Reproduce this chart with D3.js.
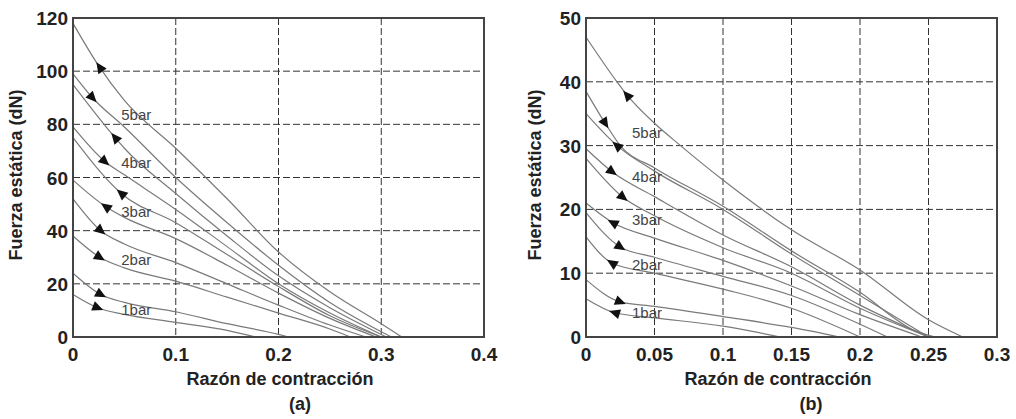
<!DOCTYPE html>
<html>
<head>
<meta charset="utf-8">
<script src="https://cdn.jsdelivr.net/npm/d3@7"></script>
<style>
  body { margin: 0; background: #fff; }
  text { font-family: "Liberation Sans", Arial, sans-serif; }
</style>
</head>
<body>
<div id="chart"></div>
<script>
// ---- data ----
const xTicksA = [0, 0.1, 0.2, 0.3, 0.4];
const yTicksA = [0, 20, 40, 60, 80, 100, 120];
const xTicksB = [0, 0.05, 0.1, 0.15, 0.2, 0.25, 0.3];
const yTicksB = [0, 10, 20, 30, 40, 50];

// panel (a): ten branches, [razón de contracción, fuerza dN]
const curvesA = [
  [[0,118],[0.025,102],[0.05,89],[0.1,71],[0.15,52],[0.2,32],[0.25,17],[0.3,5],[0.32,0]],
  [[0,99],[0.019,90],[0.05,79],[0.1,60],[0.15,43],[0.2,27],[0.25,13],[0.3,2],[0.31,0]],
  [[0,95],[0.041,75],[0.05,71],[0.1,54],[0.15,38],[0.2,23],[0.25,11],[0.305,0]],
  [[0,79],[0.031,66],[0.05,61],[0.1,48],[0.15,34],[0.2,20],[0.25,9],[0.3,0]],
  [[0,75],[0.047,54],[0.1,43],[0.15,31],[0.2,19],[0.25,8],[0.3,0]],
  [[0,59],[0.032,49],[0.05,45],[0.1,37],[0.15,27],[0.2,16.5],[0.25,7],[0.295,0]],
  [[0,52],[0.027,40],[0.05,35],[0.1,28],[0.15,20],[0.2,12],[0.25,4.5],[0.285,0]],
  [[0,38],[0.026,30],[0.05,26],[0.1,21],[0.15,15],[0.2,9],[0.25,3],[0.27,0]],
  [[0,24],[0.027,16],[0.05,13],[0.1,9.5],[0.15,5],[0.2,1],[0.21,0]],
  [[0,16],[0.024,11],[0.05,8.5],[0.1,5.5],[0.15,2.5],[0.178,0]]
];
// panel (b)
const curvesB = [
  [[0,47],[0.0226,40],[0.03,37.9],[0.05,33.5],[0.069,30],[0.1,24.6],[0.15,16.8],[0.2,10.5],[0.25,2.7],[0.275,0]],
  [[0,38.5],[0.014,33.5],[0.025,30],[0.05,26.5],[0.1,20.5],[0.15,13.5],[0.2,7],[0.24,1],[0.255,0]],
  [[0,35],[0.0226,30],[0.05,26],[0.1,20],[0.15,13],[0.2,6.5],[0.25,0]],
  [[0,29.5],[0.019,25.9],[0.05,22],[0.1,16],[0.15,11],[0.2,5],[0.25,0]],
  [[0,28],[0.027,21.9],[0.05,19],[0.1,14],[0.15,10],[0.2,4.5],[0.25,0]],
  [[0,21],[0.0197,17.9],[0.05,15.5],[0.1,12],[0.15,8],[0.2,3.5],[0.245,0]],
  [[0,19.5],[0.025,14.1],[0.05,12.5],[0.1,9.5],[0.15,6.5],[0.2,2],[0.22,0]],
  [[0,15.7],[0.019,11.6],[0.05,10],[0.1,7.5],[0.15,4.5],[0.2,0]],
  [[0,9],[0.025,5.5],[0.05,4.8],[0.1,3.2],[0.15,1.5],[0.185,0]],
  [[0,6],[0.021,3.8],[0.05,3],[0.1,1.7],[0.142,0]]
];

// arrow heads: [curve index, x position, direction (-1 towards origin, 1 away)]
const arrowsA = [[0,0.026,-1],[1,0.019,1],[2,0.041,-1],[3,0.031,1],[4,0.047,-1],
                 [5,0.032,-1],[6,0.027,1],[7,0.026,1],[8,0.027,1],[9,0.024,1]];
const arrowsB = [[0,0.03,-1],[1,0.014,1],[2,0.0226,-1],[3,0.019,1],[4,0.027,1],
                 [5,0.0197,-1],[6,0.025,1],[7,0.019,-1],[8,0.025,1],[9,0.021,-1]];

// pressure labels: [text, x, y]
const labelsA = [["5bar",0.047,83.5],["4bar",0.047,65.5],["3bar",0.047,47],["2bar",0.047,29],["1bar",0.047,10.2]];
const labelsB = [["5bar",0.0336,32],["4bar",0.0336,25.1],["3bar",0.0336,18.3],["2bar",0.0336,11.3],["1bar",0.0336,3.8]];

const W = 1016, H = 419;
const svg = d3.select("#chart").append("svg")
  .attr("width", W)
  .attr("height", H);

function interp(pts, x) {
  for (let i = 1; i < pts.length; i++) {
    if (x <= pts[i][0]) {
      const a = pts[i - 1], b = pts[i];
      return a[1] + (b[1] - a[1]) * (x - a[0]) / (b[0] - a[0]);
    }
  }
  return pts[pts.length - 1][1];
}

function drawPanel(cfg) {
  const x = d3.scaleLinear().domain(cfg.xDomain).range([cfg.left, cfg.right]);
  const y = d3.scaleLinear().domain(cfg.yDomain).range([cfg.bottom, cfg.top]);
  const g = svg.append("g");

  // dashed grid
  g.selectAll(".vg").data(cfg.xTicks.slice(1, -1)).join("line")
    .attr("x1", d => x(d)).attr("x2", d => x(d))
    .attr("y1", cfg.top).attr("y2", cfg.bottom)
    .attr("stroke", "#333").attr("stroke-width", 1)
    .attr("stroke-dasharray", "7,3");
  g.selectAll(".hg").data(cfg.yTicks.slice(1, -1)).join("line")
    .attr("x1", cfg.left).attr("x2", cfg.right)
    .attr("y1", d => y(d)).attr("y2", d => y(d))
    .attr("stroke", "#333").attr("stroke-width", 1)
    .attr("stroke-dasharray", "7,3");

  // curves
  const line = d3.line()
    .x(d => x(d[0]))
    .y(d => y(d[1]))
    .curve(d3.curveMonotoneX);
  g.selectAll(".curve").data(cfg.curves).join("path")
    .attr("fill", "none")
    .attr("stroke", "#7a7a7a")
    .attr("stroke-width", 1.2)
    .attr("d", line);

  // arrow heads
  cfg.arrows.forEach(a => {
    const pts = cfg.curves[a[0]];
    const px = x(a[1]), py = y(interp(pts, a[1]));
    const p1 = [x(a[1] - 0.004), y(interp(pts, Math.max(0, a[1] - 0.004)))];
    const p2 = [x(a[1] + 0.004), y(interp(pts, a[1] + 0.004))];
    let ang = Math.atan2(p2[1] - p1[1], p2[0] - p1[0]) * 180 / Math.PI;
    if (a[2] < 0) ang += 180;
    g.append("path")
      .attr("d", "M6,0 L-5,-5 L-5,5 Z")
      .attr("fill", "#111")
      .attr("transform", `translate(${px},${py}) rotate(${ang})`);
  });

  // pressure labels
  g.selectAll(".lab").data(cfg.labels).join("text")
    .attr("x", d => x(d[1]))
    .attr("y", d => y(d[2]) + 5)
    .attr("font-size", 15)
    .attr("fill", "#444")
    .text(d => d[0]);

  // frame
  g.append("rect")
    .attr("x", cfg.left).attr("y", cfg.top)
    .attr("width", cfg.right - cfg.left)
    .attr("height", cfg.bottom - cfg.top)
    .attr("fill", "none")
    .attr("stroke", "#444")
    .attr("stroke-width", 2);

  // tick labels
  g.selectAll(".xt").data(cfg.xTicks).join("text")
    .attr("x", d => x(d))
    .attr("y", cfg.bottom + 24)
    .attr("text-anchor", "middle")
    .attr("font-size", 19)
    .attr("font-weight", "bold")
    .attr("fill", "#222")
    .text(d => String(d));
  g.selectAll(".yt").data(cfg.yTicks).join("text")
    .attr("x", cfg.left - 5)
    .attr("y", d => y(d) + 7)
    .attr("text-anchor", "end")
    .attr("font-size", 19)
    .attr("font-weight", "bold")
    .attr("fill", "#222")
    .text(d => String(d));

  // axis titles
  g.append("text")
    .attr("x", cfg.xTitleX)
    .attr("y", 385)
    .attr("text-anchor", "middle")
    .attr("font-size", 18)
    .attr("font-weight", "bold")
    .attr("fill", "#222")
    .text("Razón de contracción");
  g.append("text")
    .attr("transform", `translate(${cfg.yTitleX},175) rotate(-90)`)
    .attr("text-anchor", "middle")
    .attr("font-size", 18)
    .attr("font-weight", "bold")
    .attr("fill", "#222")
    .text("Fuerza estática (dN)");
  g.append("text")
    .attr("x", cfg.capX)
    .attr("y", 410)
    .attr("text-anchor", "middle")
    .attr("font-size", 18)
    .attr("font-weight", "bold")
    .attr("fill", "#222")
    .text(cfg.caption);
}

drawPanel({
  left: 73, right: 484, top: 18, bottom: 337,
  xDomain: [0, 0.4], yDomain: [0, 120],
  xTicks: xTicksA, yTicks: yTicksA,
  curves: curvesA, arrows: arrowsA, labels: labelsA,
  xTitleX: 280, yTitleX: 22, capX: 300, caption: "(a)"
});

drawPanel({
  left: 586, right: 997, top: 18, bottom: 337,
  xDomain: [0, 0.3], yDomain: [0, 50],
  xTicks: xTicksB, yTicks: yTicksB,
  curves: curvesB, arrows: arrowsB, labels: labelsB,
  xTitleX: 778, yTitleX: 541, capX: 811, caption: "(b)"
});
</script>
</body>
</html>
